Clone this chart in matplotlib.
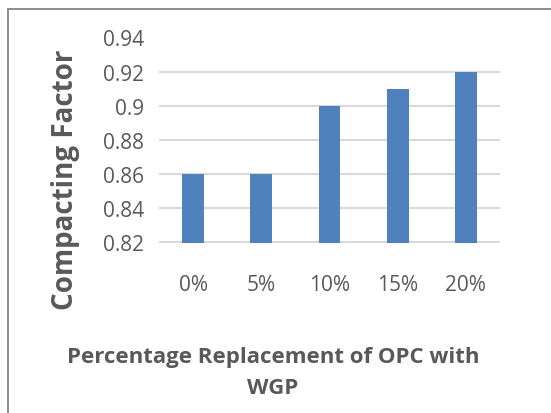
import matplotlib
matplotlib.use("Agg")
import matplotlib.pyplot as plt
from matplotlib.patches import Rectangle

categories = ["0%", "5%", "10%", "15%", "20%"]
compacting_factor = [0.86, 0.86, 0.90, 0.91, 0.92]
y_ticks = [0.82, 0.84, 0.86, 0.88, 0.90, 0.92, 0.94]
y_tick_labels = ["0.82", "0.84", "0.86", "0.88", "0.9", "0.92", "0.94"]

W, H = 551, 414
DPI = 100
plt.rcParams["font.family"] = ["Open Sans", "DejaVu Sans"]
text_color = "#595959"

fig = plt.figure(figsize=(W / DPI, H / DPI), dpi=DPI)

# chart frame (left and top edges visible)
fig.add_artist(Rectangle((7.5 / W, -0.1), 1.2, (H - 10) / H + 0.1,
                         transform=fig.transFigure, fill=False,
                         edgecolor="#8c8c8c", linewidth=1.4))

left, right = 159, 500
top, bottom = 38.5, 243.5
ax = fig.add_axes([left / W, (H - bottom) / H, (right - left) / W, (bottom - top) / H])

x = range(len(categories))
ax.bar(x, compacting_factor, width=0.32, color="#4F81BD", zorder=3)

ax.set_ylim(0.82, 0.94)
ax.set_xlim(-0.5, len(categories) - 0.5)
ax.set_yticks(y_ticks)
ax.set_yticklabels(y_tick_labels)
ax.set_xticks(list(x))
ax.set_xticklabels(categories)

for s in ax.spines.values():
    s.set_visible(False)
ax.yaxis.grid(True, color="#D9D9D9", linewidth=1.5, zorder=0)
ax.set_axisbelow(True)
ax.tick_params(axis="both", length=0, labelsize=15, labelcolor=text_color)
ax.tick_params(axis="y", pad=11)
ax.tick_params(axis="x", pad=23)

fig.text(65 / W, 1 - 180 / H, "Compacting Factor", rotation=90,
         ha="center", va="center", fontsize=20, fontweight="bold", color=text_color)
fig.text(273 / W, 1 - 373 / H, "Percentage Replacement of OPC with\nWGP",
         ha="center", va="center", fontsize=16, fontweight="bold", color=text_color,
         linespacing=1.65)

fig.savefig("out.png", dpi=DPI)
